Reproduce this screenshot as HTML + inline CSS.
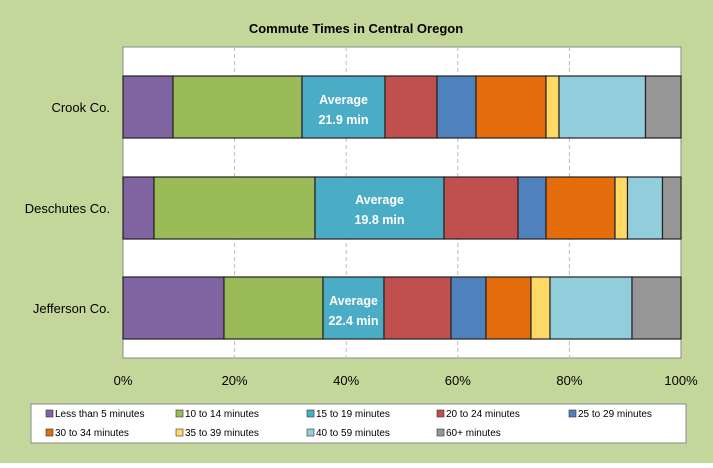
<!DOCTYPE html><html><head><style>body{margin:0}svg text{font-family:"Liberation Sans",sans-serif}</style></head><body>
<svg width="713" height="463" xmlns="http://www.w3.org/2000/svg">
<rect width="713" height="463" fill="#c4d79b"/>
<text x="356" y="33" text-anchor="middle" font-size="13" font-weight="bold">Commute Times in Central Oregon</text>
<rect x="123" y="47" width="558" height="311" fill="#fff" stroke="#888" stroke-width="1"/>
<g stroke="#bbb" stroke-dasharray="4,3"><line x1="234.6" y1="47" x2="234.6" y2="358"/><line x1="346.2" y1="47" x2="346.2" y2="358"/><line x1="457.8" y1="47" x2="457.8" y2="358"/><line x1="569.4" y1="47" x2="569.4" y2="358"/></g>
<g stroke="#222" stroke-width="1.2">
<rect x="123" y="76" width="50" height="62" fill="#8064a2"/><rect x="173" y="76" width="129" height="62" fill="#9bbb59"/><rect x="302" y="76" width="83" height="62" fill="#4bacc6"/><rect x="385" y="76" width="52" height="62" fill="#c0504d"/><rect x="437" y="76" width="39" height="62" fill="#4f81bd"/><rect x="476" y="76" width="70" height="62" fill="#e46c0a"/><rect x="546" y="76" width="13" height="62" fill="#ffd966"/><rect x="559" y="76" width="86.5" height="62" fill="#92cddc"/><rect x="645.5" y="76" width="35.5" height="62" fill="#969696"/>
<rect x="123" y="177" width="31" height="62" fill="#8064a2"/><rect x="154" y="177" width="161" height="62" fill="#9bbb59"/><rect x="315" y="177" width="129" height="62" fill="#4bacc6"/><rect x="444" y="177" width="74" height="62" fill="#c0504d"/><rect x="518" y="177" width="28" height="62" fill="#4f81bd"/><rect x="546" y="177" width="69" height="62" fill="#e46c0a"/><rect x="615" y="177" width="12.5" height="62" fill="#ffd966"/><rect x="627.5" y="177" width="35" height="62" fill="#92cddc"/><rect x="662.5" y="177" width="18.5" height="62" fill="#969696"/>
<rect x="123" y="277" width="101" height="62" fill="#8064a2"/><rect x="224" y="277" width="99" height="62" fill="#9bbb59"/><rect x="323" y="277" width="61" height="62" fill="#4bacc6"/><rect x="384" y="277" width="67" height="62" fill="#c0504d"/><rect x="451" y="277" width="35" height="62" fill="#4f81bd"/><rect x="486" y="277" width="45" height="62" fill="#e46c0a"/><rect x="531" y="277" width="19" height="62" fill="#ffd966"/><rect x="550" y="277" width="82" height="62" fill="#92cddc"/><rect x="632" y="277" width="49" height="62" fill="#969696"/>
</g>
<g fill="#fff" font-weight="bold" font-size="12.5" text-anchor="middle">
<text x="343.5" y="104">Average</text><text x="343.5" y="124">21.9 min</text>
<text x="379.5" y="204">Average</text><text x="379.5" y="224">19.8 min</text>
<text x="353.5" y="305">Average</text><text x="353.5" y="325">22.4 min</text>
</g>
<g font-size="13" text-anchor="end"><text x="110" y="112">Crook Co.</text><text x="110" y="213">Deschutes Co.</text><text x="110" y="313">Jefferson Co.</text></g>
<g font-size="13" text-anchor="middle"><text x="123" y="385">0%</text><text x="234.6" y="385">20%</text><text x="346.2" y="385">40%</text><text x="457.8" y="385">60%</text><text x="569.4" y="385">80%</text><text x="681" y="385">100%</text></g>
<rect x="31" y="404" width="655" height="39" fill="#fff" stroke="#888"/>
<g font-size="10" stroke="#333" stroke-width="0.6">
<rect x="46" y="410" width="7" height="7" fill="#8064a2"/><rect x="176" y="410" width="7" height="7" fill="#9bbb59"/><rect x="307" y="410" width="7" height="7" fill="#4bacc6"/><rect x="437" y="410" width="7" height="7" fill="#c0504d"/><rect x="569" y="410" width="7" height="7" fill="#4f81bd"/>
<rect x="46" y="429" width="7" height="7" fill="#e46c0a"/><rect x="176" y="429" width="7" height="7" fill="#ffd966"/><rect x="307" y="429" width="7" height="7" fill="#92cddc"/><rect x="437" y="429" width="7" height="7" fill="#969696"/>
</g>
<g font-size="10">
<text x="55" y="417">Less than 5 minutes</text><text x="185" y="417">10 to 14 minutes</text><text x="316" y="417">15 to 19 minutes</text><text x="446" y="417">20 to 24 minutes</text><text x="578" y="417">25 to 29 minutes</text>
<text x="55" y="436">30 to 34 minutes</text><text x="185" y="436">35 to 39 minutes</text><text x="316" y="436">40 to 59 minutes</text><text x="446" y="436">60+ minutes</text>
</g>
</svg></body></html>
